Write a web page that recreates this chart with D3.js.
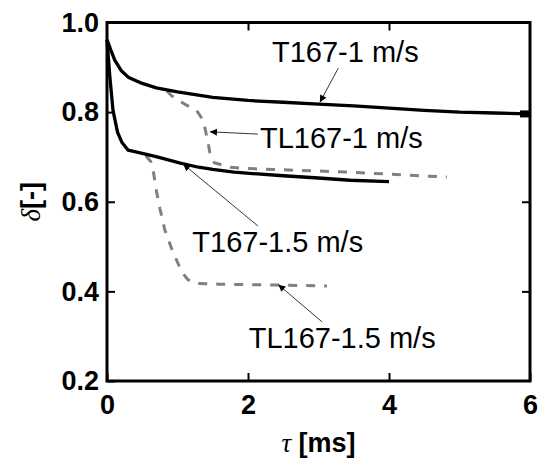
<!DOCTYPE html>
<html>
<head>
<meta charset="utf-8">
<script src="https://cdn.jsdelivr.net/npm/d3@7"></script>
<style>
  html, body { margin: 0; padding: 0; background: #fff; }
  svg { display: block; font-family: "Liberation Sans", Arial, sans-serif; }
</style>
</head>
<body>
<div id="chart"></div>
<script>
// chart size and plot box
const W = 541, H = 466;
const margin = {top: 22.5, right: 11, bottom: 85, left: 107};

// data (tau in ms, delta in -)
const t167_1 = [[0,0.962],[0.05,0.94],[0.11,0.916],[0.2,0.893],[0.3,0.878],[0.5,0.864],[0.7,0.854],[1.0,0.845],[1.5,0.833],[2,0.826],[2.5,0.822],[3,0.818],[3.5,0.814],[4,0.809],[4.5,0.804],[5,0.800],[5.5,0.798],[6,0.796]];
const t167_15 = [[0,0.962],[0.04,0.88],[0.085,0.804],[0.15,0.755],[0.21,0.733],[0.3,0.715],[0.5,0.708],[0.71,0.700],[1.04,0.686],[1.3,0.677],[1.5,0.672],[1.8,0.666],[2.5,0.658],[3,0.653],[3.45,0.648],[4,0.645]];
const tl167_1 = [[0.85,0.847],[0.92,0.836],[1.1,0.818],[1.27,0.804],[1.35,0.785],[1.39,0.764],[1.43,0.735],[1.46,0.709],[1.52,0.687],[1.75,0.677],[2,0.674],[2.74,0.670],[3.45,0.666],[4.2,0.660],[4.82,0.655]];
const tl167_15 = [[0.55,0.703],[0.62,0.69],[0.66,0.665],[0.7,0.625],[0.75,0.585],[0.82,0.537],[0.92,0.494],[1.0,0.465],[1.06,0.443],[1.15,0.426],[1.25,0.418],[1.6,0.416],[2,0.415],[2.5,0.414],[3.12,0.412]];

const xTicks = [0, 2, 4, 6];
const yTicks = [0.2, 0.4, 0.6, 0.8, 1.0];

// annotations: label position, arrow tail, arrow tip (data units)
const notes = [
  {text: "T167-1 m/s",    at: [2.34, 0.912], from: [3.28, 0.898], to: [3.02, 0.822]},
  {text: "TL167-1 m/s",   at: [2.17, 0.720], from: [2.14, 0.751], to: [1.46, 0.756]},
  {text: "T167-1.5 m/s",  at: [1.21, 0.488], from: [2.14, 0.546], to: [1.08, 0.684]},
  {text: "TL167-1.5 m/s", at: [2.01, 0.274], from: [3.05, 0.332], to: [2.43, 0.415]}
];

const svg = d3.select("#chart").append("svg")
    .attr("width", W).attr("height", H);

const x = d3.scaleLinear().domain([0, 6]).range([margin.left, W - margin.right]);
const y = d3.scaleLinear().domain([0.2, 1.0]).range([H - margin.bottom, margin.top]);

svg.append("defs").append("marker")
    .attr("id", "arr")
    .attr("viewBox", "0 0 10 10")
    .attr("refX", 10).attr("refY", 5)
    .attr("markerWidth", 9).attr("markerHeight", 7)
    .attr("markerUnits", "userSpaceOnUse")
    .attr("orient", "auto")
  .append("path")
    .attr("d", "M0,0 L10,5 L0,10 Z")
    .attr("fill", "#000");

const line = d3.line()
    .x(d => x(d[0])).y(d => y(d[1]));

// dashed gray series first, solid black on top
[tl167_1, tl167_15].forEach(s => {
  svg.append("path").datum(s)
      .attr("d", line)
      .attr("fill", "none")
      .attr("stroke", "#808080")
      .attr("stroke-width", 3)
      .attr("stroke-linejoin", "round")
      .attr("stroke-dasharray", "9,9");
});
[t167_1, t167_15].forEach(s => {
  svg.append("path").datum(s)
      .attr("d", line)
      .attr("fill", "none")
      .attr("stroke", "#000")
      .attr("stroke-width", 3.3)
      .attr("stroke-linejoin", "round");
});

// end marker on the T167-1 curve
const last = t167_1[t167_1.length - 1];
svg.append("rect")
    .attr("x", x(last[0]) - 10).attr("y", y(last[1]) - 3.5)
    .attr("width", 10).attr("height", 7)
    .attr("fill", "#000");

// axes (ticks pointing inwards)
const gx = svg.append("g")
    .attr("transform", `translate(0,${y(0.2)})`)
    .call(d3.axisBottom(x).tickValues(xTicks).tickSize(-8).tickSizeOuter(0).tickPadding(14).tickFormat(d3.format("d")));
const gy = svg.append("g")
    .attr("transform", `translate(${x(0)},0)`)
    .call(d3.axisLeft(y).tickValues(yTicks).tickSize(-8).tickSizeOuter(0).tickPadding(8).tickFormat(d3.format(".1f")));
const gt = svg.append("g")
    .attr("transform", `translate(0,${y(1.0)})`)
    .call(d3.axisTop(x).tickValues([2, 4]).tickSize(-8).tickSizeOuter(0).tickFormat(""));
const gr = svg.append("g")
    .attr("transform", `translate(${x(6)},0)`)
    .call(d3.axisRight(y).tickValues([0.4, 0.6, 0.8]).tickSize(-8).tickSizeOuter(0).tickFormat(""));

[gx, gy, gt, gr].forEach(g => {
  g.select(".domain").remove();
  g.selectAll(".tick line").attr("stroke", "#000").attr("stroke-width", 2);
  g.selectAll("text")
      .attr("fill", "#000")
      .style("font-size", "27px")
      .style("font-weight", "bold")
      .style("font-family", "'Liberation Sans', Arial, sans-serif");
});

// frame
svg.append("rect")
    .attr("x", x(0)).attr("y", y(1.0))
    .attr("width", x(6) - x(0)).attr("height", y(0.2) - y(1.0))
    .attr("fill", "none")
    .attr("stroke", "#000")
    .attr("stroke-width", 3);

// annotations
notes.forEach(n => {
  svg.append("line")
      .attr("x1", x(n.from[0])).attr("y1", y(n.from[1]))
      .attr("x2", x(n.to[0])).attr("y2", y(n.to[1]))
      .attr("stroke", "#000")
      .attr("stroke-width", 0.8)
      .attr("marker-end", "url(#arr)");
  svg.append("text")
      .attr("x", x(n.at[0])).attr("y", y(n.at[1]))
      .style("font-size", "29px")
      .attr("fill", "#000")
      .text(n.text);
});

// axis titles
const xt = svg.append("text")
    .attr("x", (x(0) + x(6)) / 2).attr("y", 452)
    .attr("text-anchor", "middle")
    .style("font-size", "27px");
xt.append("tspan").style("font-style", "italic").style("font-family", "'Liberation Serif', serif").text("τ");
xt.append("tspan").style("font-weight", "bold").text(" [ms]");

const yt = svg.append("text")
    .attr("transform", `translate(40,${(y(0.2) + y(1.0)) / 2}) rotate(-90)`)
    .attr("text-anchor", "middle")
    .style("font-size", "27px");
yt.append("tspan").style("font-style", "italic").style("font-family", "'Liberation Serif', serif").text("δ");
yt.append("tspan").style("font-weight", "bold").text("[-]");
</script>
</body>
</html>
